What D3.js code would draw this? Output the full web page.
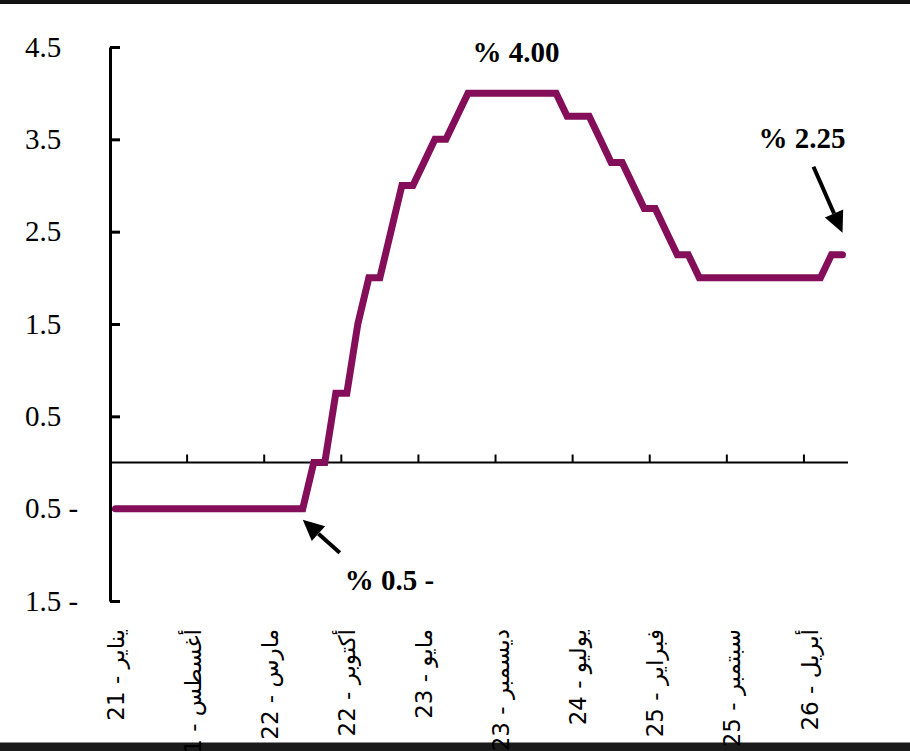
<!DOCTYPE html>
<html>
<head>
<meta charset="utf-8">
<script src="https://cdn.jsdelivr.net/npm/d3@7"></script>
<style>
    body { margin: 0; background: #fff; }
    svg  { display: block; }
    .num  { font-family: 'Liberation Serif', 'Times New Roman', serif; fill: #000; }
    .xlab { font-family: 'DejaVu Sans', 'Noto Sans', sans-serif; font-size: 23px; fill: #000; }
</style>
</head>
<body>
<div id="graph"></div>
<script>
// Months shown on the axis, one point per month from Jan 2021
var monthNames = [ 'يناير', 'فبراير', 'مارس', 'أبريل', 'مايو', 'يونيو',
                   'يوليو', 'أغسطس', 'سبتمبر', 'أكتوبر', 'نوفمبر', 'ديسمبر' ];
var startYear  = 21;
var monthCount = 67;

// Policy rate per month (%)
var rates = [ -0.5, -0.5, -0.5, -0.5, -0.5, -0.5, -0.5, -0.5, -0.5, -0.5, -0.5, -0.5,   // 2021
              -0.5, -0.5, -0.5, -0.5, -0.5, -0.5, 0, 0, 0.75, 0.75, 1.5, 2.0,           // 2022
              2.0, 2.5, 3.0, 3.0, 3.25, 3.5, 3.5, 3.75, 4.0, 4.0, 4.0, 4.0,             // 2023
              4.0, 4.0, 4.0, 4.0, 4.0, 3.75, 3.75, 3.75, 3.5, 3.25, 3.25, 3.0,          // 2024
              2.75, 2.75, 2.5, 2.25, 2.25, 2.0, 2.0, 2.0, 2.0, 2.0, 2.0, 2.0,           // 2025
              2.0, 2.0, 2.0, 2.0, 2.0, 2.25, 2.25 ];                                    // 2026

// Label every 7th month
var labelStep = 7;

// Y axis ticks
var yTicks = [ 4.5, 3.5, 2.5, 1.5, 0.5, -0.5, -1.5 ];

// Annotated points: [month index, text]
var notes = [ [ 36, '% 4.00' ], [ 66, '% 2.25' ], [ 17, '% 0.5 -' ] ];

var lineColour = '#840e59';

function D3App ()
{
    var W = 910, H = 751;
    var margin = { top: 47, right: 62, bottom: 150, left: 110 };

    var svg = d3.select ('#graph')
                .append ('svg')
                .attr ('width', W)
                .attr ('height', H);

    // dark strips of the screenshot, top and bottom
    svg.append ('rect').attr ('x', 0).attr ('y', 0).attr ('width', W).attr ('height', 4).attr ('fill', '#121212');
    svg.append ('rect').attr ('x', 0).attr ('y', 742.5).attr ('width', W).attr ('height', H - 742.5).attr ('fill', '#1b1b1b');

    var months = d3.range (monthCount).map (function (i)
    {
        return monthNames[i % 12] + ' - ' + (startYear + Math.floor (i / 12));
    });

    var xScale = d3.scaleBand ()
                   .domain (d3.range (monthCount))
                   .range ([ margin.left, W - margin.right ])
                   .padding (0);

    var yScale = d3.scaleLinear ()
                   .domain ([ -1.5, 4.5 ])
                   .range ([ 601, margin.top ]);

    function cx (i) { return xScale (i) + xScale.bandwidth () / 2; }

    function fmt (v)
    {
        var s = d3.format ('.1f') (Math.abs (v));
        return v < 0 ? s + ' -' : s;
    }

    // Y axis with ticks pointing inwards
    var yAxis = d3.axisRight (yScale)
                  .tickValues (yTicks)
                  .tickSize (10)
                  .tickSizeOuter (0)
                  .tickFormat ('');

    var gy = svg.append ('g')
                .attr ('transform', 'translate(' + margin.left + ',0)')
                .call (yAxis);
    gy.select ('.domain').attr ('stroke', '#000').attr ('stroke-width', 3);
    gy.selectAll ('.tick line').attr ('stroke', '#000').attr ('stroke-width', 3);

    svg.append ('g')
       .selectAll ('text')
       .data (yTicks)
       .enter ()
       .append ('text')
       .attr ('class', 'num')
       .attr ('x', 25)
       .attr ('y', function (d) { return yScale (d); })
       .attr ('dy', '0.33em')
       .style ('font-size', '29px')
       .text (fmt);

    // X axis along zero, ticks between every 7th month
    var tickMonths = d3.range (labelStep, monthCount, labelStep);

    var xAxis = d3.axisTop (xScale)
                  .tickValues (tickMonths)
                  .tickSize (8)
                  .tickSizeOuter (0)
                  .tickFormat ('')
                  .offset (0);

    var gx = svg.append ('g')
                .attr ('transform', 'translate(0,' + yScale (0) + ')')
                .call (xAxis);
    gx.select ('.domain').attr ('stroke', '#000').attr ('stroke-width', 2);
    gx.selectAll ('.tick line')
      .attr ('transform', function (d) { return 'translate(' + (-xScale.bandwidth () / 2) + ',0)'; })
      .attr ('stroke', '#000')
      .attr ('stroke-width', 2);

    // Month labels, rotated, hanging from the top
    var labelMonths = d3.range (0, monthCount, labelStep);

    svg.append ('g')
       .selectAll ('text')
       .data (labelMonths)
       .enter ()
       .append ('text')
       .attr ('class', 'xlab')
       .attr ('direction', 'rtl')
       .attr ('text-anchor', 'start')
       .attr ('transform', function (d) { return 'translate(' + cx (d) + ',629) rotate(-90)'; })
       .attr ('dy', '0.35em')
       .text (function (d) { return months[d]; });

    // Rate line
    var line = d3.line ()
                 .x (function (d, i) { return cx (i); })
                 .y (function (d)    { return yScale (d); });

    svg.append ('path')
       .datum (rates)
       .attr ('d', line)
       .attr ('fill', 'none')
       .attr ('stroke', lineColour)
       .attr ('stroke-width', 7)
       .attr ('stroke-linejoin', 'miter')
       .attr ('stroke-linecap', 'round');

    // Arrow helper: shaft plus filled head
    function arrow (x1, y1, x2, y2)
    {
        var a  = Math.atan2 (y2 - y1, x2 - x1);
        var hl = 21, hw = 10;
        var bx = x2 - hl * Math.cos (a), by = y2 - hl * Math.sin (a);

        svg.append ('line')
           .attr ('x1', x1).attr ('y1', y1)
           .attr ('x2', bx).attr ('y2', by)
           .attr ('stroke', '#000')
           .attr ('stroke-width', 4);

        svg.append ('path')
           .attr ('d', 'M' + x2 + ',' + y2 +
                       'L' + (bx + hw * Math.sin (a)) + ',' + (by - hw * Math.cos (a)) +
                       'L' + (bx - hw * Math.sin (a)) + ',' + (by + hw * Math.cos (a)) + 'Z')
           .attr ('fill', '#000');
    }

    // Annotations
    var peak = notes[0], last = notes[1], low = notes[2];

    svg.append ('text')
       .attr ('class', 'num')
       .attr ('x', cx (peak[0]) + 4)
       .attr ('y', yScale (rates[peak[0]]) - 31)
       .attr ('text-anchor', 'middle')
       .style ('font-size', '29px')
       .style ('font-weight', 'bold')
       .text (peak[1]);

    svg.append ('text')
       .attr ('class', 'num')
       .attr ('x', cx (last[0]) + 3)
       .attr ('y', yScale (rates[last[0]]) - 107)
       .attr ('text-anchor', 'end')
       .style ('font-size', '29px')
       .style ('font-weight', 'bold')
       .text (last[1]);

    arrow (cx (last[0]) - 29, yScale (rates[last[0]]) - 88, cx (last[0]), yScale (rates[last[0]]) - 22);

    svg.append ('text')
       .attr ('class', 'num')
       .attr ('x', cx (low[0]) + 42)
       .attr ('y', yScale (rates[low[0]]) + 81)
       .attr ('text-anchor', 'start')
       .style ('font-size', '29px')
       .style ('font-weight', 'bold')
       .text (low[1]);

    arrow (cx (low[0]) + 37, yScale (rates[low[0]]) + 44, cx (low[0]), yScale (rates[low[0]]) + 11);
}

D3App ();
</script>
</body>
</html>
